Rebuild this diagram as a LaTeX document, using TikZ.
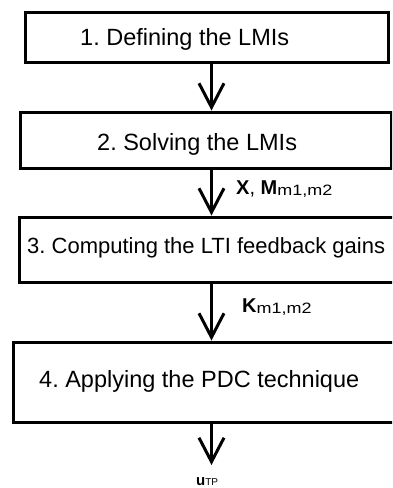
\documentclass[tikz,border=0pt]{standalone}
\usepackage{fontspec}
\usepackage{graphicx}
\setmainfont{Liberation Sans}
\usetikzlibrary{arrows.meta}
\frenchspacing
\newcommand\mysubsc[2]{\raisebox{-1.5pt}{\scalebox{1.2}[1]{\fontsize{#1}{#1}\selectfont #2}}}
\begin{document}
\begin{tikzpicture}[x=1pt,y=-1pt,
  stepbox/.style={draw,line width=3pt,inner sep=0pt,rectangle},
  boxtext/.style={anchor=base west,inner sep=0pt,font=\fontsize{23.5}{27}\selectfont},
  flow/.style={line width=3pt,-{Straight Barb[length=24pt,width=25pt,line width=3pt]}},
  lab/.style={anchor=base west,inner sep=0pt}]
\useasboundingbox (0,0) rectangle (392,488);
\clip (0,0) rectangle (392,488);
\fill[white] (0,0) rectangle (392,488);
% boxes
\node[stepbox,minimum width=363pt,minimum height=50pt] (b1) at (206.5,37) {};
\node[stepbox,minimum width=371pt,minimum height=56pt] (b2) at (205.5,140) {};
\node[stepbox,minimum width=401pt,minimum height=65pt] (b3) at (219.5,249.5) {};
\node[stepbox,minimum width=407pt,minimum height=80pt] (b4) at (216.5,382) {};
% box texts
\node[boxtext] (t1) at (80,45) {1. Defining the LMIs};
\node[boxtext] (t2) at (97,150) {2. Solving the LMIs};
\node[boxtext,font=\fontsize{22}{26}\selectfont] (t3) at (27,253) {3. Computing the LTI feedback gains};
\node[boxtext] (t4) at (39,387) {4. Applying the PDC technique};
% arrows
\coordinate (ax) at (211.5,0);
\coordinate (out) at (211.5,465);
\draw[flow] (b1.south -| ax) -- (b2.north -| ax);
\draw[flow] (b2.south -| ax) -- (b3.north -| ax);
\draw[flow] (b3.south -| ax) -- (b4.north -| ax);
\draw[flow] (b4.south -| ax) -- (out);
% labels
\node[lab] (lxm) at (236,194) {\fontsize{20}{20}\selectfont\textbf{X}, \textbf{M}\mysubsc{15}{m1,m2}};
\node[lab] (lk) at (242,312) {\fontsize{20}{20}\selectfont\textbf{K}\mysubsc{15}{m1,m2}};
\node[lab] (lu) at (196,485) {\fontsize{15}{15}\selectfont\textbf{u}\raisebox{-0.5pt}{\fontsize{10}{10}\selectfont TP}};
\end{tikzpicture}
\end{document}
